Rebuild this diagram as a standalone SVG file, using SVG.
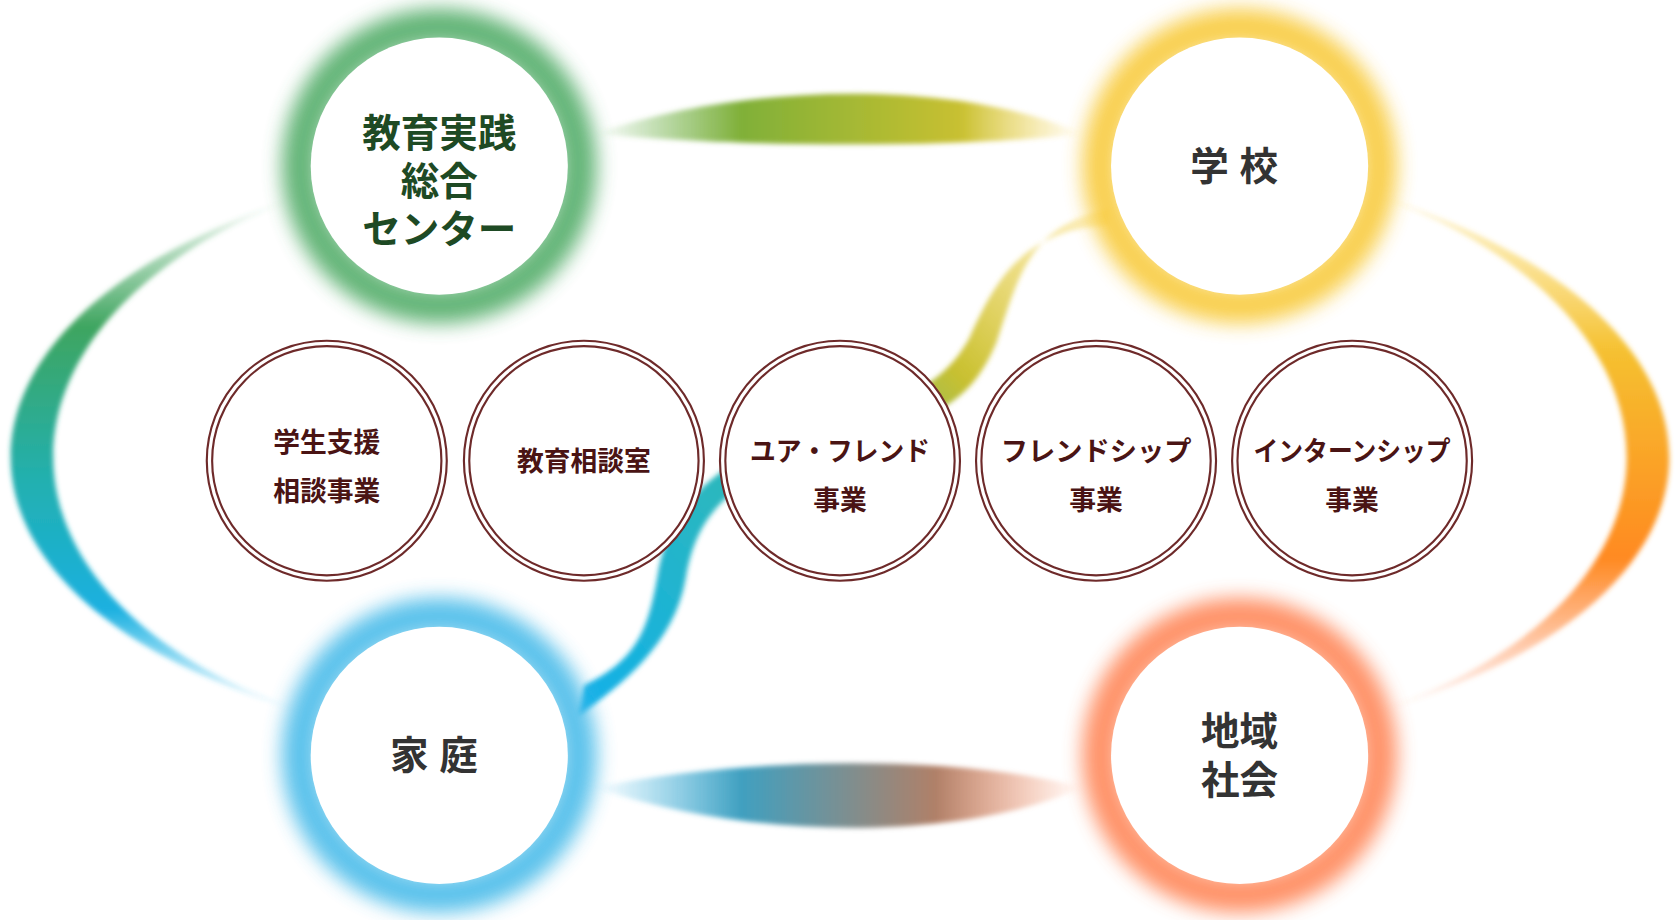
<svg xmlns="http://www.w3.org/2000/svg" width="1680" height="920" viewBox="0 0 1680 920">
<style>
.big{font-family:"Noto Sans CJK JP","Noto Sans",sans-serif;font-weight:700;font-size:36px;text-anchor:middle;fill:#333}
.sm{font-family:"Noto Sans CJK JP","Noto Sans",sans-serif;font-weight:700;font-size:25px;text-anchor:middle;fill:#4a1414}
.ring{fill:#fff;stroke:#6e2a2a;stroke-width:2}
.glow{fill:none;stroke-width:34;filter:url(#blur);opacity:0.85}
</style>
<defs>
<filter id="blur" x="-30%" y="-30%" width="160%" height="160%"><feGaussianBlur stdDeviation="9"/></filter>
<filter id="soft" x="-10%" y="-10%" width="120%" height="120%"><feGaussianBlur stdDeviation="2.5"/></filter>
<linearGradient id="gL" x1="0" y1="185" x2="0" y2="665" gradientUnits="userSpaceOnUse">
<stop offset="0" stop-color="#4aa860" stop-opacity="0"/><stop offset="0.25" stop-color="#3ea560"/><stop offset="0.55" stop-color="#22b0b0"/><stop offset="0.8" stop-color="#1ab0e0"/><stop offset="1" stop-color="#40c0f0" stop-opacity="0"/></linearGradient>
<linearGradient id="gR" x1="0" y1="185" x2="0" y2="665" gradientUnits="userSpaceOnUse">
<stop offset="0" stop-color="#f8d040" stop-opacity="0.2"/><stop offset="0.3" stop-color="#f5c030"/><stop offset="0.7" stop-color="#ff8a20"/><stop offset="1" stop-color="#ff8050" stop-opacity="0"/></linearGradient>
<linearGradient id="gT" x1="555" y1="0" x2="1010" y2="0" gradientUnits="userSpaceOnUse">
<stop offset="0" stop-color="#60b050" stop-opacity="0"/><stop offset="0.3" stop-color="#80b038"/><stop offset="0.75" stop-color="#c8c030"/><stop offset="1" stop-color="#f8d040" stop-opacity="0"/></linearGradient>
<linearGradient id="gB" x1="555" y1="0" x2="1010" y2="0" gradientUnits="userSpaceOnUse">
<stop offset="0" stop-color="#40b8e8" stop-opacity="0"/><stop offset="0.3" stop-color="#40a0c0"/><stop offset="0.7" stop-color="#b08068"/><stop offset="1" stop-color="#ff8050" stop-opacity="0"/></linearGradient>
<linearGradient id="gS" x1="1030" y1="200" x2="545" y2="660" gradientUnits="userSpaceOnUse">
<stop offset="0" stop-color="#f8d040" stop-opacity="0.3"/><stop offset="0.3" stop-color="#c8c030"/><stop offset="0.6" stop-color="#30b8b8"/><stop offset="1" stop-color="#10b0e8"/></linearGradient>
</defs>
<g transform="scale(1.0714)">
<g id="connectors" filter="url(#soft)">
<path d="M275,185 C-80,300 -80,560 285,665 C-27,560 -27,300 275,185 Z" fill="url(#gL)"/>
<path d="M1293,185 C1648,300 1648,560 1283,665 C1595,560 1595,300 1293,185 Z" fill="url(#gR)"/>
<path d="M555,125 C700,75 900,75 1010,125 C900,138 700,138 555,125 Z" fill="url(#gT)"/>
<path d="M555,735 C700,705 900,705 1010,735 C900,785 700,785 555,735 Z" fill="url(#gB)"/>
<path d="M1035,195 C960,210 950,260 930,320 C900,390 860,390 760,420 C680,450 650,480 640,540 C630,600 580,640 540,668 L545,640 C595,615 605,590 615,530 C630,460 680,425 760,400 C850,370 880,360 905,315 C930,260 955,215 1035,210 Z" fill="url(#gS)"/>
</g>
<g id="n-center"><circle class="glow" cx="410" cy="155" r="130" stroke="#4aa860"/><circle cx="410" cy="155" r="120" fill="#fff"/>
<text class="big" style="fill:#1e4a24" x="410" y="137">教育実践</text><text class="big" style="fill:#1e4a24" x="410" y="182">総合</text><text class="big" style="fill:#1e4a24" x="410" y="227">センター</text></g>
<g id="n-school"><circle class="glow" cx="1157" cy="155" r="130" stroke="#f8c830"/><circle cx="1157" cy="155" r="120" fill="#fff"/>
<text class="big" x="1157" y="168" letter-spacing="10">学校</text></g>
<g id="n-home"><circle class="glow" cx="410" cy="705" r="130" stroke="#40b8e8"/><circle cx="410" cy="705" r="120" fill="#fff"/>
<text class="big" x="410" y="718" letter-spacing="10">家庭</text></g>
<g id="n-community"><circle class="glow" cx="1157" cy="705" r="130" stroke="#ff8050"/><circle cx="1157" cy="705" r="120" fill="#fff"/>
<text class="big" x="1157" y="695">地域</text><text class="big" x="1157" y="741">社会</text></g>
<g id="s1"><circle class="ring" cx="305" cy="430" r="112"/><circle class="ring" cx="305" cy="430" r="107"/><text class="sm" x="305" y="422">学生支援</text><text class="sm" x="305" y="468">相談事業</text></g>
<g id="s2"><circle class="ring" cx="545" cy="430" r="112"/><circle class="ring" cx="545" cy="430" r="107"/><text class="sm" x="545" y="440">教育相談室</text></g>
<g id="s3"><circle class="ring" cx="784" cy="430" r="112"/><circle class="ring" cx="784" cy="430" r="107"/><text class="sm" x="784" y="430" textLength="168" lengthAdjust="spacingAndGlyphs">ユア・フレンド</text><text class="sm" x="784" y="476">事業</text></g>
<g id="s4"><circle class="ring" cx="1023" cy="430" r="112"/><circle class="ring" cx="1023" cy="430" r="107"/><text class="sm" x="1023" y="430" textLength="178" lengthAdjust="spacingAndGlyphs">フレンドシップ</text><text class="sm" x="1023" y="476">事業</text></g>
<g id="s5"><circle class="ring" cx="1262" cy="430" r="112"/><circle class="ring" cx="1262" cy="430" r="107"/><text class="sm" x="1262" y="430" textLength="184" lengthAdjust="spacingAndGlyphs">インターンシップ</text><text class="sm" x="1262" y="476">事業</text></g>
</g>
</svg>
